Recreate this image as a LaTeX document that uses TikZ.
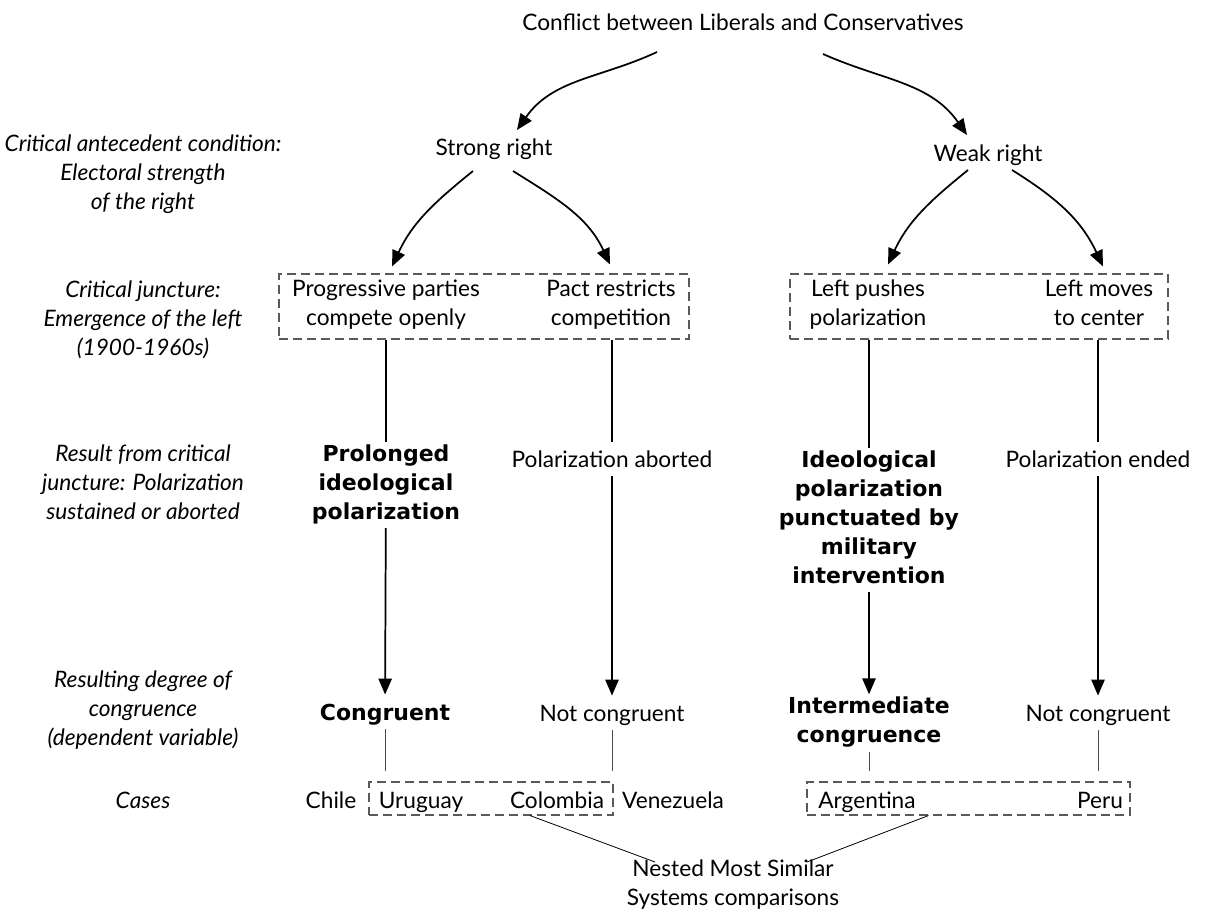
\documentclass[tikz,border=0pt]{standalone}
\usepackage{fontspec}
\setmainfont{Lato}
\newfontfamily\heavy{DejaVu Sans}
\usetikzlibrary{arrows.meta}
\newcommand\txtsize{\fontsize{17}{21.75}\selectfont}
\newcommand\topstrut{\rule{0pt}{17.4pt}}
\newcommand\botstrut{\rule[-4.35pt]{0pt}{4.35pt}}
\tikzset{
    every node/.style={font=\txtsize, align=center, inner sep=2pt,
    	execute at begin node=\topstrut, execute at end node=\botstrut},
    side/.style={font=\txtsize\itshape},
    strong/.style={font={\heavy\fontsize{16.5}{21.75}\selectfont\bfseries}},
    arr/.style={-{Triangle[length=12pt,width=10pt]}, line width=1.3pt},
    link/.style={line width=1.3pt},
    thin/.style={line width=0.6pt, black!70, shorten >=7.5pt},
    dbox/.style={draw=black!65, dash pattern=on 6.5pt off 4pt, line width=0.8pt,
    	inner sep=0pt}
}

\begin{document}
\begin{tikzpicture}[x=0.75pt, y=0.75pt]
  \useasboundingbox (0,0) rectangle (1206,-922);

  % row labels
  \node (l1) [side] at (143,-175) {Critical antecedent condition:\\Electoral strength\\of the right};
  \node (l2) [side] at (143,-321) {Critical juncture:\\Emergence of the left\\(1900-1960s)};
  \node (l3) [side] at (143,-485) {Result from critical\\juncture: Polarization\\sustained or aborted};
  \node (l4) [side] at (143,-711) {Resulting degree of\\congruence\\(dependent variable)};
  \node (l5) [side] at (143,-800) {Cases};

  % tree
  \node (title) at (743,-22) {Conflict between Liberals and Conservatives};
  \node (sright) at (494,-147) {Strong right};
  \node (wright) at (988,-153) {Weak right};

  \node (jbox1) [dbox, minimum width=307.5pt, minimum height=48.75pt] at (484,-306.5) {};
  \node (jbox2) [dbox, minimum width=283.5pt, minimum height=48.75pt] at (979,-306.5) {};
  \node (prog) at (386,-306) {Progressive parties\\compete openly};
  \node (pact) at (611,-306) {Pact restricts\\competition};
  \node (lpush) at (868,-306) {Left pushes\\polarization};
  \node (lmove) at (1099,-306) {Left moves\\to center};

  \node (prolong) [strong] at (386,-485) {Prolonged\\ideological\\polarization};
  \node (abort) at (612,-459) {Polarization aborted};
  \node (punct) [strong] at (869,-520) {Ideological\\polarization\\punctuated by\\military\\intervention};
  \node (ended) at (1098,-459) {Polarization ended};

  \node (congr) [strong] at (385,-712) {Congruent};
  \node (notc1) at (612,-713) {Not congruent};
  \node (inter) [strong] at (869,-723) {Intermediate\\congruence};
  \node (notc2) at (1098,-713) {Not congruent};

  \node (cbox1) [dbox, minimum width=183pt, minimum height=24.75pt] at (491,-798.5) {};
  \node (cbox2) [dbox, minimum width=242.25pt, minimum height=24.75pt] at (968.5,-798.5) {};
  \node (chile) at (331,-800) {Chile};
  \node (urug) at (421,-800) {Uruguay};
  \node (colom) at (557,-800) {Colombia};
  \node (venez) at (673,-800) {Venezuela};
  \node (argen) at (867,-800) {Argentina};
  \node (peru) at (1100,-800) {Peru};
  \node (nested) at (733,-886) {Nested Most Similar\\Systems comparisons};

  \draw[arr] ([shift={(-86,-30)}]title.center) to[out=205, in=55] ([shift={(23,17)}]sright.center);
  \draw[arr] ([shift={(80,-32)}]title.center) to[out=-24, in=125] ([shift={(-21,18)}]wright.center);

  \draw[arr] ([shift={(-21,-24)}]sright.center) to[out=219, in=65] ([shift={(-92,7)}]jbox1.north);
  \draw[arr] ([shift={(19,-24)}]sright.center) to[out=-32, in=115] ([shift={(126,9)}]jbox1.north);
  \draw[arr] ([shift={(-20,-17)}]wright.center) to[out=219, in=65] ([shift={(-91,9)}]jbox2.north);
  \draw[arr] ([shift={(24,-17)}]wright.center) to[out=-32, in=115] ([shift={(124,7)}]jbox2.north);

  \draw[link] (jbox1.south -| prolong) -- (prolong);
  \draw[link] (jbox1.south -| abort) -- (abort);
  \draw[link] (jbox2.south -| punct) -- (punct);
  \draw[link] (jbox2.south -| ended) -- (ended);

  \draw[arr] (prolong) -- (congr);
  \draw[arr] (abort) -- (notc1);
  \draw[arr] (punct) -- (inter);
  \draw[arr] (ended) -- (notc2);

  \draw[thin] (congr) -- (cbox1.north -| congr);
  \draw[thin] (notc1) -- (cbox1.north -| notc1);
  \draw[thin] (inter) -- (cbox2.north -| inter);
  \draw[thin] (notc2) -- (cbox2.north -| notc2);

  \draw[line width=0.6pt] ([shift={(39,0)}]cbox1.south) -- ([shift={(-78,24)}]nested.center);
  \draw[line width=0.6pt] ([shift={(-40,0)}]cbox2.south) -- ([shift={(74,24)}]nested.center);
\end{tikzpicture}
\end{document}
